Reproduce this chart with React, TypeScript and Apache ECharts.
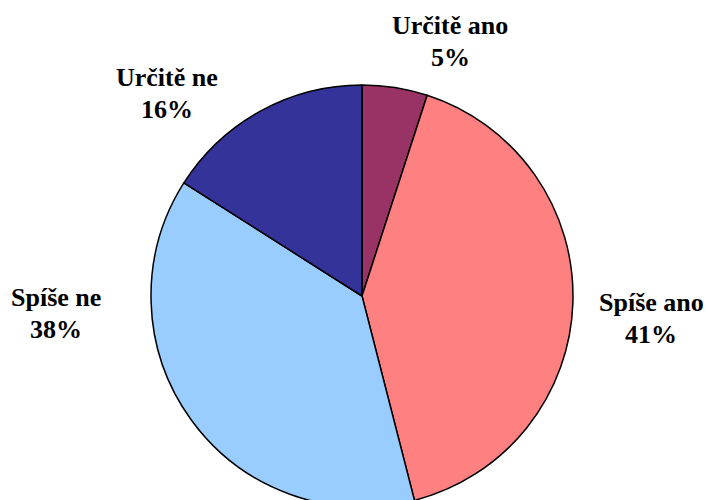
import React, { useEffect, useRef } from "react";
import * as echarts from "echarts";

const categories = ["Určitě ano", "Spíše ano", "Spíše ne", "Určitě ne"];
const values = [5, 41, 38, 16];
const colors = ["#993366", "#FF8080", "#99CCFF", "#333399"];
const labelCenters: [number, number][] = [
  [450, 41],
  [651, 318],
  [56, 313],
  [167, 93],
];

const FONT = 'bold 26px "Liberation Serif"';

export default function App() {
  const ref = useRef<HTMLDivElement>(null);
  useEffect(() => {
    if (!ref.current) return;
    const chart = echarts.init(ref.current, undefined, { renderer: "svg" });
    const total = values.reduce((a, b) => a + b, 0);
    const ctx = document.createElement("canvas").getContext("2d");
    const measure = (t: string) => {
      if (!ctx) return t.length * 12;
      ctx.font = FONT;
      return ctx.measureText(t).width;
    };
    const graphic: any[] = [];
    categories.forEach((name, i) => {
      const [cx, cy] = labelCenters[i];
      const pct = `${Math.round((values[i] / total) * 100)}%`;
      [name, pct].forEach((t, k) => {
        graphic.push({
          type: "text",
          left: Math.round(cx - measure(t) / 2),
          top: Math.round(cy + (k === 0 ? -16 : 16) - 13),
          style: { text: t, font: FONT, fill: "#000000" },
        });
      });
    });
    chart.setOption({
      animation: false,
      backgroundColor: "#ffffff",
      graphic,
      series: [
        {
          type: "pie",
          center: [362, 296],
          radius: 211,
          startAngle: 90,
          clockwise: true,
          data: categories.map((name, i) => ({
            name,
            value: values[i],
            itemStyle: { color: colors[i] },
          })),
          itemStyle: { borderColor: "#000000", borderWidth: 1.5 },
          label: { show: false },
          labelLine: { show: false },
        },
      ],
    });
    return () => chart.dispose();
  }, []);
  return (
    <div
      ref={ref}
      style={{ position: "fixed", left: 0, top: 0, width: 706, height: 500 }}
    />
  );
}
